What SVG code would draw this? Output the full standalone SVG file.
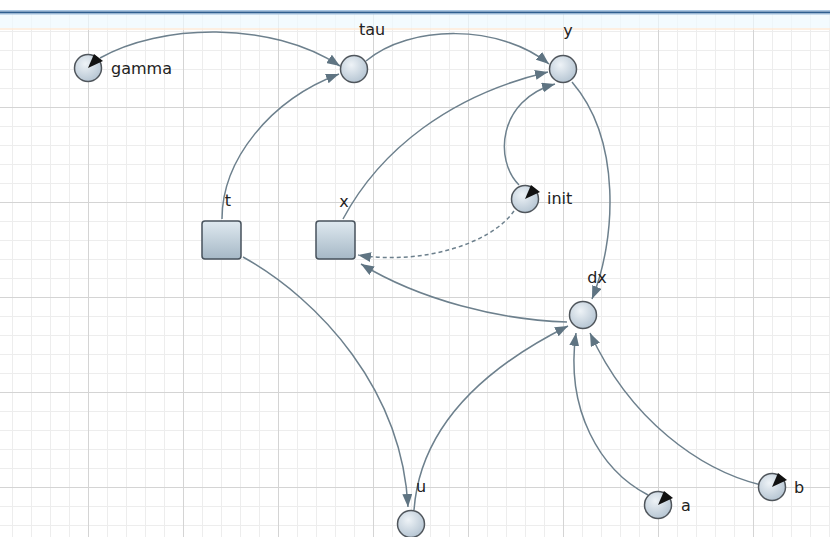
<svg xmlns="http://www.w3.org/2000/svg" width="830" height="537" viewBox="0 0 830 537">
  <defs>
    <pattern id="minorGrid" patternUnits="userSpaceOnUse" x="12" y="12" width="19" height="19">
      <path d="M0 0.5 H19 M0.5 0 V19" fill="none" stroke="#ededed" stroke-width="1"/>
    </pattern>
    <pattern id="majorGrid" patternUnits="userSpaceOnUse" x="88" y="12" width="95" height="95">
      <path d="M0 0.5 H95 M0.5 0 V95" fill="none" stroke="#d4d4d4" stroke-width="1"/>
    </pattern>
    <radialGradient id="ballFill" cx="40%" cy="35%" r="70%">
      <stop offset="0" stop-color="#eef3f7"/>
      <stop offset="1" stop-color="#b3c3d1"/>
    </radialGradient>
    <linearGradient id="boxFill" x1="0" y1="0" x2="0" y2="1">
      <stop offset="0" stop-color="#dfe9f0"/>
      <stop offset="1" stop-color="#a6b8c6"/>
    </linearGradient>
    <marker id="arrow" markerUnits="userSpaceOnUse" markerWidth="14" markerHeight="10" refX="13" refY="5" orient="auto">
      <path d="M0 0 L13 5 L0 10 Z" fill="#5f7482"/>
    </marker>
    <style>
      .edge { fill: none; stroke: #6d808d; stroke-width: 1.5; marker-end: url(#arrow); }
      .dashed { stroke-dasharray: 4 3; }
      .ball { fill: url(#ballFill); stroke: #50565c; stroke-width: 1.5; }
      .box { fill: url(#boxFill); stroke: #47525c; stroke-width: 1.5; }
      .dial { fill: #111; }
      .label { font-family: "DejaVu Sans", "Liberation Sans", sans-serif; font-size: 16px; fill: #222; }
    </style>
  </defs>

  <!-- canvas with grid -->
  <rect x="0" y="0" width="830" height="537" fill="#ffffff"/>
  <rect x="0" y="14" width="830" height="523" fill="url(#minorGrid)"/>
  <rect x="0" y="14" width="830" height="523" fill="url(#majorGrid)"/>

  <!-- header strip -->
  <rect x="0" y="14" width="830" height="14" fill="#eefafd" opacity="0.7"/>
  <rect x="0" y="28" width="830" height="2" fill="#fcebd9" opacity="0.8"/>
  <rect x="0" y="10" width="830" height="1.5" fill="#a9c7e3"/>
  <rect x="0" y="11.5" width="830" height="2" fill="#2f5f8f"/>
  <rect x="0" y="13.5" width="830" height="1" fill="#9fc0de"/>

  <!-- connectors -->
  <g id="connectors">
    <path class="edge" d="M100 58 C160 24, 270 20, 340 66"/>
    <path class="edge" d="M366 61 C410 24, 500 24, 549 64"/>
    <path class="edge" d="M222 219 C222 160, 270 100, 339 74"/>
    <path class="edge" d="M343 219 C380 150, 450 95, 548 72"/>
    <path class="edge" d="M519 185 C494 160, 498 100, 555 84"/>
    <path class="edge" d="M572 82 C622 140, 616 240, 592 299"/>
    <path class="edge dashed" d="M514 211 C490 245, 420 265, 358 255"/>
    <path class="edge" d="M567 322 C500 320, 420 300, 361 264"/>
    <path class="edge" d="M243 257 C320 300, 402 390, 408 507"/>
    <path class="edge" d="M414 510 C420 430, 480 370, 568 326"/>
    <path class="edge" d="M648 495 C600 470, 565 410, 576 333"/>
    <path class="edge" d="M761 485 C700 470, 630 420, 590 333"/>
  </g>

  <!-- nodes -->
  <g id="node-gamma">
    <circle class="ball" cx="88" cy="68" r="13.5"/>
    <path class="dial" d="M88 68 L94 54 L103 61 Z"/>
    <text class="label" x="111" y="74">gamma</text>
  </g>
  <g id="node-tau">
    <circle class="ball" cx="354" cy="69" r="13.5"/>
    <text class="label" x="372" y="35" text-anchor="middle">tau</text>
  </g>
  <g id="node-y">
    <circle class="ball" cx="563" cy="69" r="13.5"/>
    <text class="label" x="568" y="36" text-anchor="middle">y</text>
  </g>
  <g id="node-t">
    <rect class="box" x="202" y="221" width="39" height="38" rx="3"/>
    <text class="label" x="228" y="206" text-anchor="middle">t</text>
  </g>
  <g id="node-x">
    <rect class="box" x="316" y="221" width="39" height="38" rx="3"/>
    <text class="label" x="344" y="207" text-anchor="middle">x</text>
  </g>
  <g id="node-init">
    <circle class="ball" cx="525" cy="199" r="13.5"/>
    <path class="dial" d="M525 199 L531 185 L540 192 Z"/>
    <text class="label" x="547" y="204">init</text>
  </g>
  <g id="node-dx">
    <circle class="ball" cx="583" cy="315" r="13.5"/>
    <text class="label" x="597" y="283" text-anchor="middle">dx</text>
  </g>
  <g id="node-u">
    <circle class="ball" cx="411" cy="524" r="13.5"/>
    <text class="label" x="421" y="492" text-anchor="middle">u</text>
  </g>
  <g id="node-a">
    <circle class="ball" cx="658" cy="505" r="13.5"/>
    <path class="dial" d="M658 505 L664 491 L673 498 Z"/>
    <text class="label" x="681" y="511">a</text>
  </g>
  <g id="node-b">
    <circle class="ball" cx="772" cy="487" r="13.5"/>
    <path class="dial" d="M772 487 L778 473 L787 480 Z"/>
    <text class="label" x="794" y="493">b</text>
  </g>
</svg>
